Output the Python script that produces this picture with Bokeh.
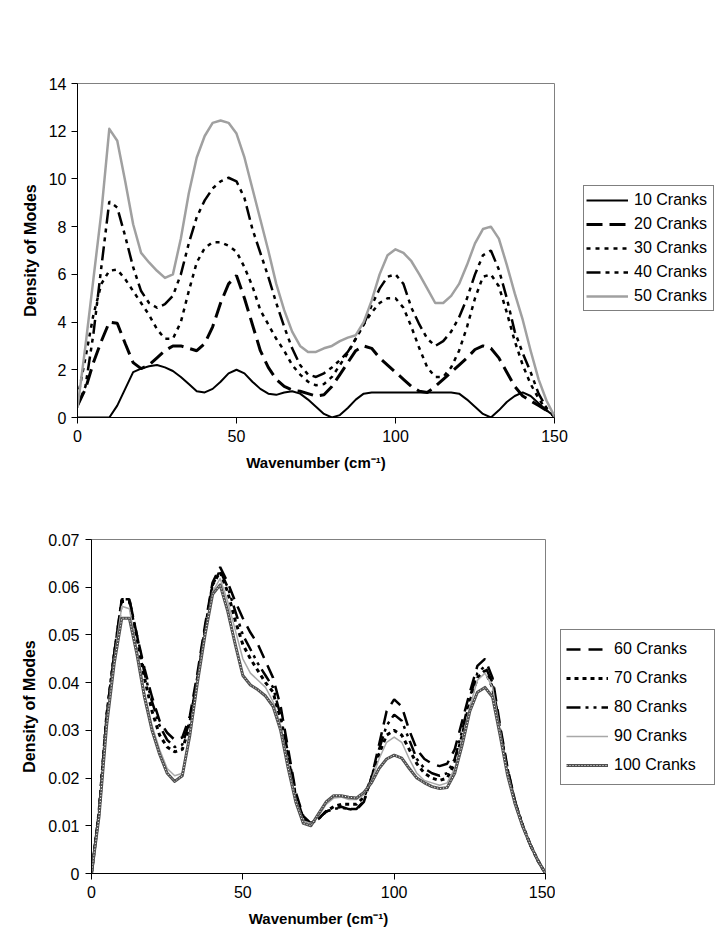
from bokeh.plotting import figure
from bokeh.models import Legend, LegendItem, FixedTicker, Range1d
from bokeh.layouts import column, row
from bokeh.embed import file_html
from bokeh.resources import INLINE

# ---------------- data ----------------
wavenumber = [0, 2.5, 5, 7.5, 10, 12.5, 15, 17.5, 20, 22.5, 25, 27.5, 30, 32.5, 35, 37.5,
              40, 42.5, 45, 47.5, 50, 52.5, 55, 57.5, 60, 62.5, 65, 67.5, 70, 72.5, 75, 77.5,
              80, 82.5, 85, 87.5, 90, 92.5, 95, 97.5, 100, 102.5, 105, 107.5, 110, 112.5,
              115, 117.5, 120, 122.5, 125, 127.5, 130, 132.5, 135, 137.5, 140, 142.5, 145,
              147.5, 150]

cranks_10 = [0, 0, 0, 0, 0, 0.5, 1.2, 1.9, 2.05, 2.15,
             2.2, 2.1, 1.95, 1.7, 1.4, 1.1, 1.05, 1.2, 1.5, 1.85,
             2.0, 1.85, 1.5, 1.2, 1.0, 0.95, 1.05, 1.1, 1.0, 0.75,
             0.45, 0.15, 0.0, 0.1, 0.4, 0.75, 1.0, 1.05, 1.05, 1.05,
             1.05, 1.05, 1.05, 1.05, 1.05, 1.05, 1.05, 1.05, 1.0, 0.75,
             0.45, 0.15, 0.0, 0.3, 0.65, 0.9, 1.05, 0.9, 0.6, 0.3,
             0.05]
cranks_20 = [0.5, 1.2, 2.3, 3.2, 4.0, 3.95, 3.1, 2.3, 2.05, 2.2,
             2.5, 2.8, 3.0, 3.0, 2.9, 2.8, 3.1, 3.8, 4.8, 5.6,
             5.95, 5.0, 3.9, 2.8, 2.1, 1.6, 1.3, 1.15, 1.1, 1.0,
             0.9, 0.95, 1.3, 1.8, 2.3, 2.8, 3.0, 2.9, 2.5, 2.2,
             1.9, 1.6, 1.3, 1.1, 1.05, 1.3, 1.6, 1.9, 2.2, 2.5,
             2.85, 3.0, 2.9, 2.5, 1.9, 1.3, 0.9, 0.7, 0.5, 0.3,
             0.05]
cranks_30 = [0.8, 2.5, 4.3, 5.6, 6.15, 6.2, 5.8, 5.3, 4.8, 4.3,
             3.7, 3.3, 3.3, 4.0, 5.3, 6.5, 7.1, 7.35, 7.35, 7.2,
             6.95, 6.3, 5.5, 4.5, 3.9, 3.3, 2.8, 2.2, 1.8, 1.5,
             1.35, 1.4, 1.7, 2.2, 2.7, 3.3, 3.9, 4.4, 4.8, 5.0,
             5.0, 4.6, 3.8, 2.9, 2.1, 1.7, 1.7, 2.1, 2.8, 3.8,
             5.0, 5.9, 6.0, 5.5, 4.4, 3.2, 2.2, 1.4, 0.8, 0.3,
             0.05]
cranks_40 = [0.5, 1.3, 3.5, 6.3, 9.05, 8.8, 7.6, 6.3, 5.3, 4.8,
             4.6, 4.75, 5.1, 6.0, 7.3, 8.4, 9.1, 9.6, 9.9, 10.05,
             9.9, 9.2, 7.9, 6.9, 5.9, 4.8, 3.8, 2.9, 2.2, 1.8,
             1.7, 1.85, 2.1, 2.4, 2.75, 3.3, 3.9, 4.7, 5.4, 5.9,
             6.0, 5.6, 4.6, 3.9, 3.3, 3.0, 3.2, 3.6, 4.2, 5.0,
             6.0, 6.8, 7.0, 6.2, 5.0, 3.6, 2.7, 1.9, 1.0, 0.4,
             0.05]
cranks_50 = [0.4, 3.0, 5.8, 8.6, 12.1, 11.6, 9.9, 8.1, 6.9, 6.5,
             6.15, 5.85, 6.0, 7.5, 9.4, 10.9, 11.8, 12.35, 12.45, 12.35,
             11.9, 10.9, 9.6, 8.3, 7.0, 5.6, 4.5, 3.6, 3.0, 2.75,
             2.75, 2.9, 3.0, 3.2, 3.35, 3.45, 4.0, 4.9, 6.0, 6.8,
             7.05, 6.9, 6.55, 6.0, 5.4, 4.8, 4.8, 5.1, 5.6, 6.4,
             7.3, 7.9, 8.0, 7.5, 6.4, 5.2, 4.1, 2.8, 1.6, 0.7,
             0.05]

cranks_60 = [0.0, 0.013, 0.033, 0.046, 0.0575, 0.0575, 0.050, 0.043, 0.037, 0.032,
             0.0295, 0.028, 0.0285, 0.033, 0.042, 0.052, 0.061, 0.0642, 0.061, 0.057,
             0.0535, 0.0505, 0.048, 0.0445, 0.041, 0.035, 0.026, 0.017, 0.012, 0.0105,
             0.0115, 0.013, 0.0135, 0.014, 0.0135, 0.0133, 0.015, 0.020, 0.027, 0.034,
             0.0365, 0.035, 0.030, 0.026, 0.024, 0.023, 0.0225, 0.023, 0.026, 0.032,
             0.038, 0.0435, 0.045, 0.041, 0.031, 0.022, 0.015, 0.010, 0.006, 0.0027,
             0.0]
cranks_70 = [0.0, 0.013, 0.033, 0.046, 0.057, 0.057, 0.049, 0.041, 0.034, 0.029,
             0.0265, 0.0255, 0.026, 0.031, 0.041, 0.051, 0.0605, 0.0632, 0.059, 0.053,
             0.048, 0.045, 0.0425, 0.040, 0.038, 0.032, 0.024, 0.016, 0.0115, 0.0105,
             0.0115, 0.013, 0.014, 0.0145, 0.0145, 0.0145, 0.016, 0.020, 0.025, 0.029,
             0.030, 0.029, 0.026, 0.023, 0.021, 0.020, 0.0195, 0.020, 0.023, 0.029,
             0.036, 0.041, 0.0425, 0.039, 0.030, 0.0215, 0.0148, 0.010, 0.006, 0.0027,
             0.0]
cranks_80 = [0.0, 0.013, 0.033, 0.046, 0.0575, 0.0575, 0.050, 0.042, 0.036, 0.031,
             0.028, 0.0265, 0.027, 0.032, 0.041, 0.051, 0.0605, 0.0635, 0.060, 0.055,
             0.050, 0.047, 0.044, 0.0415, 0.039, 0.033, 0.025, 0.0165, 0.0115, 0.0105,
             0.0115, 0.013, 0.0135, 0.0138, 0.0135, 0.0135, 0.0152, 0.020, 0.026, 0.031,
             0.0333, 0.032, 0.028, 0.024, 0.022, 0.021, 0.0205, 0.021, 0.024, 0.030,
             0.037, 0.042, 0.0435, 0.040, 0.030, 0.0215, 0.0148, 0.010, 0.006, 0.0027,
             0.0]
cranks_90 = [0.0, 0.012, 0.032, 0.045, 0.056, 0.0555, 0.047, 0.038, 0.031, 0.026,
             0.022, 0.0205, 0.021, 0.029, 0.040, 0.050, 0.059, 0.0618, 0.057, 0.051,
             0.045, 0.042, 0.0405, 0.039, 0.036, 0.031, 0.023, 0.0155, 0.011, 0.0105,
             0.012, 0.0145, 0.0158, 0.016, 0.0155, 0.0155, 0.0165, 0.0195, 0.024, 0.0275,
             0.0286, 0.0275, 0.024, 0.021, 0.0195, 0.019, 0.0185, 0.019, 0.022, 0.028,
             0.035, 0.0405, 0.042, 0.039, 0.030, 0.021, 0.0145, 0.0098, 0.006, 0.0027,
             0.0]
cranks_100 = [0.0, 0.012, 0.031, 0.044, 0.0535, 0.0535, 0.046, 0.037, 0.030, 0.025,
              0.021, 0.0193, 0.0205, 0.029, 0.040, 0.050, 0.0585, 0.0605, 0.055, 0.048,
              0.0415, 0.0395, 0.0385, 0.0372, 0.035, 0.030, 0.022, 0.015, 0.0105, 0.010,
              0.0125, 0.015, 0.0163, 0.0163, 0.016, 0.0158, 0.017, 0.019, 0.022, 0.024,
              0.0248, 0.0242, 0.022, 0.020, 0.019, 0.0182, 0.0178, 0.018, 0.021, 0.027,
              0.034, 0.038, 0.039, 0.037, 0.029, 0.0205, 0.0145, 0.0098, 0.006, 0.0027,
              0.0]

x_ticks = [0, 50, 100, 150]
top_y_ticks = [0, 2, 4, 6, 8, 10, 12, 14]
bottom_y_ticks = [0, 0.01, 0.02, 0.03, 0.04, 0.05, 0.06, 0.07]
bottom_y_labels = ["0", "0.01", "0.02", "0.03", "0.04", "0.05", "0.06", "0.07"]

top_labels = ["10 Cranks", "20 Cranks", "30 Cranks", "40 Cranks", "50 Cranks"]
bottom_labels = ["60 Cranks", "70 Cranks", "80 Cranks", "90 Cranks", "100 Cranks"]

for s in (cranks_10, cranks_20, cranks_30, cranks_40, cranks_50,
          cranks_60, cranks_70, cranks_80, cranks_90, cranks_100):
    assert len(s) == len(wavenumber), len(s)

FONT = "Liberation Sans"
X_TITLE = "Wavenumber (cm\u207b\u00b9)"
Y_TITLE = "Density of Modes"

# line styles (shared by the chart lines and the legend samples)
top_styles = [
    [dict(line_color="black", line_width=2, line_join="round")],
    [dict(line_color="black", line_width=3, line_dash="16 7")],
    [dict(line_color="black", line_width=2.5, line_dash="4 5")],
    [dict(line_color="black", line_width=2.5, line_dash="14 5 4 5 4 5")],
    [dict(line_color="#a0a0a0", line_width=2.5, line_join="round")],
]
bottom_styles = [
    [dict(line_color="black", line_width=2.5, line_dash="14 8")],
    [dict(line_color="black", line_width=3, line_dash="4 4")],
    [dict(line_color="black", line_width=2.5, line_dash="14 5 3 5 3 5")],
    [dict(line_color="#a8a8a8", line_width=1.5, line_join="round")],
    [dict(line_color="#505050", line_width=3, line_join="round"),
     dict(line_color="white", line_width=1, line_dash="1 2")],
]


def make_fig(width, height, mbl, mbr, mbt, mbb, ymax, yticks, y_standoff):
    p = figure(width=width, height=height, output_backend="svg", toolbar_location=None,
               x_range=Range1d(0, 150), y_range=Range1d(0, ymax),
               min_border_left=mbl, min_border_right=mbr,
               min_border_top=mbt, min_border_bottom=mbb)
    p.xgrid.visible = False
    p.ygrid.visible = False
    p.outline_line_color = "#808080"
    p.outline_line_width = 1
    p.background_fill_color = "white"
    p.border_fill_color = "white"
    p.xaxis.ticker = FixedTicker(ticks=x_ticks)
    p.yaxis.ticker = FixedTicker(ticks=yticks)
    for ax in (p.xaxis[0], p.yaxis[0]):
        ax.axis_line_color = "black"
        ax.axis_line_width = 1
        ax.major_tick_line_color = "black"
        ax.major_tick_out = 6
        ax.major_tick_in = 0
        ax.minor_tick_line_color = None
        ax.major_label_text_font = FONT
        ax.major_label_text_font_size = "16px"
        ax.major_label_text_color = "black"
        ax.axis_label_text_font = FONT
        ax.axis_label_text_font_style = "bold"
        ax.axis_label_text_color = "black"
    p.xaxis.axis_label = X_TITLE
    p.xaxis.axis_label_text_font_size = "15px"
    p.xaxis.major_label_standoff = 6
    p.xaxis.axis_label_standoff = 9
    p.yaxis.axis_label = Y_TITLE
    p.yaxis.axis_label_text_font_size = "16px"
    p.yaxis.major_label_standoff = y_standoff
    p.yaxis.axis_label_standoff = 7
    return p


def make_legend_fig(width, height, labels, styles, loc, pad, gh, spacing, lw):
    lf = figure(width=width, height=height, output_backend="svg", toolbar_location=None,
                x_axis_type=None, y_axis_type=None,
                x_range=Range1d(0, 1), y_range=Range1d(0, 1),
                min_border_left=0, min_border_right=0, min_border_top=0, min_border_bottom=0)
    lf.outline_line_color = None
    lf.xgrid.visible = False
    lf.ygrid.visible = False
    lf.background_fill_color = "white"
    lf.border_fill_color = "white"
    items = []
    for lab, st in zip(labels, styles):
        # sample renderers placed outside the visible range: only their legend glyph shows
        rs = [lf.line([-5, -4], [-5, -5], **kw) for kw in st]
        items.append(LegendItem(label=lab, renderers=rs))
    lg = Legend(items=items, location=loc)
    lg.border_line_color = "black"
    lg.border_line_width = 1
    lg.background_fill_color = "white"
    lg.background_fill_alpha = 1
    lg.label_text_font = FONT
    lg.label_text_font_size = "16px"
    lg.label_text_color = "black"
    lg.padding = pad
    lg.spacing = spacing
    lg.glyph_height = gh
    lg.label_height = gh
    lg.glyph_width = 42
    lg.label_standoff = 6
    lg.label_width = lw
    lg.margin = 0
    lf.add_layout(lg)
    return lf


# ---------------- top chart ----------------
p1 = make_fig(574, 480, 77, 20, 83, 63, 14, top_y_ticks, 5)
for series, st in zip([cranks_10, cranks_20, cranks_30, cranks_40, cranks_50], top_styles):
    for kw in st:
        p1.line(wavenumber, series, **kw)
lf1 = make_legend_fig(154, 480, top_labels, top_styles, (9, 106), 2, 24, 0, 77)

# ---------------- bottom chart ----------------
p2 = make_fig(555, 464, 91, 10, 59, 71, 0.07, bottom_y_ticks, 6)
p2.yaxis.major_label_overrides = {t: s for t, s in zip(bottom_y_ticks, bottom_y_labels)}
for series, st in zip([cranks_60, cranks_70, cranks_80, cranks_90, cranks_100], bottom_styles):
    for kw in st:
        p2.line(wavenumber, series, **kw)
lf2 = make_legend_fig(173, 464, bottom_labels, bottom_styles, (5, 88), 5, 28, 1, 95)

layout = column(row(p1, lf1, spacing=0), row(p2, lf2, spacing=0), spacing=0)
open("out.html", "w").write(file_html(layout, INLINE))
